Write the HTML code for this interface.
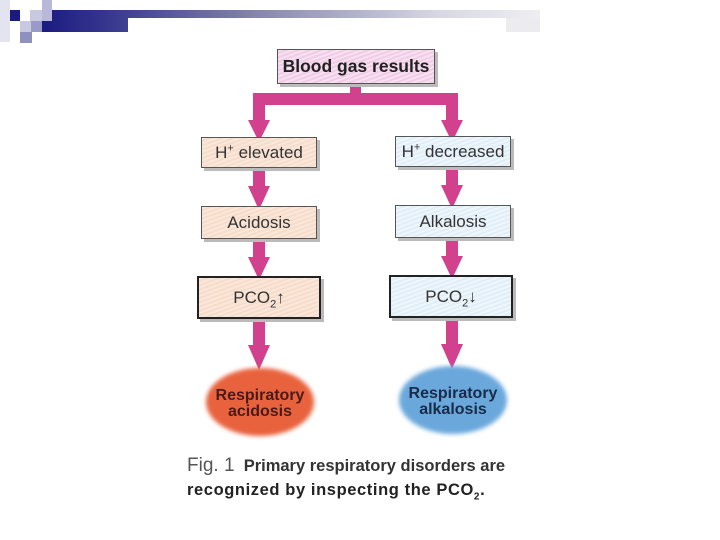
<!DOCTYPE html>
<html><head><meta charset="utf-8"><style>
body{margin:0;width:720px;height:540px;background:#fff;position:relative;overflow:hidden;font-family:"Liberation Sans",sans-serif}
.a{position:absolute}
.box{position:absolute;border:1px solid #555;box-shadow:3px 3px 0 #bbb;display:flex;align-items:center;justify-content:center;font-size:17px;color:#333}
.o{background:repeating-linear-gradient(160deg,#fbe7da 0 2px,#f6dccb 2px 4px)}
.b{background:repeating-linear-gradient(160deg,#eef6fb 0 2px,#e0eef7 2px 4px)}
sup,sub{line-height:0}
</style></head><body>
<div class="a" style="left:40px;top:10px;width:500px;height:22px;background:linear-gradient(90deg,#1a1a80,#3a3a90 15%,#8a8ab0 45%,#d8d8e4 80%,#eeeef2)"></div>
<div class="a" style="left:128px;top:18px;width:412px;height:16px;background:#fff"></div>
<div class="a" style="left:506px;top:18px;width:34px;height:14px;background:#ececf0"></div>
<div class="a" style="left:0;top:0;width:10px;height:42px;background:#e4e4f0"></div>
<div class="a" style="left:10px;top:10px;width:10px;height:11px;background:#1a1a80"></div>
<div class="a" style="left:30px;top:10px;width:12px;height:11px;background:#c8c8e0"></div>
<div class="a" style="left:42px;top:0;width:10px;height:21px;background:#b8b8d8"></div>
<div class="a" style="left:20px;top:21px;width:11px;height:11px;background:#c8c8e0"></div>
<div class="a" style="left:31px;top:21px;width:11px;height:11px;background:#9a9ac8"></div>
<div class="a" style="left:20px;top:32px;width:12px;height:11px;background:#9090c0"></div>
<svg class="a" style="left:0;top:0" width="720" height="540">
<defs><filter id="bl"><feGaussianBlur stdDeviation="2"/></filter></defs>
<g fill="#d2418e">
<rect x="350" y="83" width="11" height="14"/>
<rect x="253" y="93" width="205" height="12"/>
<rect x="253" y="93" width="12" height="28"/><polygon points="248,120 270,120 259,142"/>
<rect x="446" y="93" width="12" height="28"/><polygon points="441,120 463,120 452,142"/>
<rect x="253" y="167" width="12" height="20"/><polygon points="248,186 270,186 259,210"/>
<rect x="446" y="166" width="12" height="20"/><polygon points="441,185 463,185 452,209"/>
<rect x="253" y="238" width="12" height="20"/><polygon points="248,257 270,257 259,280"/>
<rect x="446" y="237" width="12" height="20"/><polygon points="441,256 463,256 452,279"/>
<rect x="253" y="318" width="12" height="28"/><polygon points="248,345 270,345 259,370"/>
<rect x="446" y="317" width="12" height="28"/><polygon points="441,344 463,344 452,369"/>
</g>
<ellipse cx="260" cy="402" rx="54" ry="34" fill="#e8623e" filter="url(#bl)"/>
<ellipse cx="453" cy="400" rx="54" ry="34" fill="#6aa8dc" filter="url(#bl)"/>
<text x="260" y="400" text-anchor="middle" font-family="Liberation Sans" font-weight="bold" font-size="16" fill="#4a1a18">Respiratory</text>
<text x="260" y="416" text-anchor="middle" font-family="Liberation Sans" font-weight="bold" font-size="16" fill="#4a1a18">acidosis</text>
<text x="453" y="398" text-anchor="middle" font-family="Liberation Sans" font-weight="bold" font-size="16" fill="#1a2a48">Respiratory</text>
<text x="453" y="414" text-anchor="middle" font-family="Liberation Sans" font-weight="bold" font-size="16" fill="#1a2a48">alkalosis</text>
</svg>
<div class="box" style="left:277px;top:49px;width:156px;height:33px;background:repeating-linear-gradient(160deg,#f8e0f0 0 2px,#efcde6 2px 4px);font-weight:bold;color:#222;font-size:17.5px"><span>Blood gas results</span></div>
<div class="box o" style="left:201px;top:137px;width:114px;height:29px"><span>H<sup style="font-size:11px">+</sup> elevated</span></div>
<div class="box b" style="left:395px;top:136px;width:114px;height:29px"><span>H<sup style="font-size:11px">+</sup> decreased</span></div>
<div class="box o" style="left:201px;top:206px;width:114px;height:31px"><span>Acidosis</span></div>
<div class="box b" style="left:395px;top:205px;width:114px;height:31px"><span>Alkalosis</span></div>
<div class="box o" style="left:197px;top:276px;width:120px;height:39px;border:2px solid #222"><span>PCO<sub style="font-size:11px">2</sub>↑</span></div>
<div class="box b" style="left:389px;top:275px;width:120px;height:39px;border:2px solid #222"><span>PCO<sub style="font-size:11px">2</sub>↓</span></div>
<div class="a" style="left:187px;top:455px;font-size:16.5px;color:#333;white-space:nowrap"><span style="font-size:19px;color:#555">Fig. 1</span>&nbsp; <b>Primary respiratory disorders are</b></div>
<div class="a" style="left:187px;top:481px;font-size:16.5px;color:#222;font-weight:bold;white-space:nowrap;letter-spacing:0.6px">recognized by inspecting the PCO<sub style="font-size:10px">2</sub>.</div>
</body></html>
